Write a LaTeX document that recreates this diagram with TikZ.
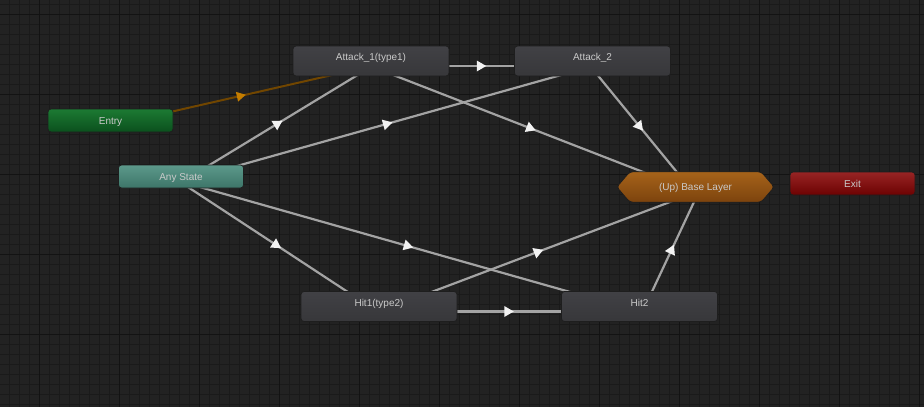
\documentclass[tikz,border=0pt]{standalone}
\usepackage{fontspec}
\setmainfont{Liberation Sans}
\usetikzlibrary{calc,decorations.markings}
\definecolor{bgc}{HTML}{222222}
\definecolor{minorc}{HTML}{1A1A1A}
\definecolor{majorc}{HTML}{131313}
\definecolor{txtc}{HTML}{CACACA}
\definecolor{linec}{HTML}{A3A3A3}
\definecolor{arrowc}{HTML}{F2F2F2}
\definecolor{orangeline}{HTML}{714600}
\definecolor{orangearrow}{HTML}{C47D00}
\pgfdeclarelayer{gridlayer}
\pgfdeclarelayer{linelayer}
\pgfdeclarelayer{hexlayer}
\pgfsetlayers{gridlayer,linelayer,hexlayer,main}
\tikzset{
  nodefont/.style={text=txtc, font=\fontsize{10}{12}\selectfont},
  statebox/.style={nodefont, rectangle, rounded corners=3pt, minimum width=156pt, minimum height=30pt,
    inner sep=0pt, top color=gray1, bottom color=gray2, draw=edgec, line width=0.8pt,
    text height=7pt, text depth=7.8pt},
  smallbox/.style={nodefont, rectangle, rounded corners=3pt, minimum width=125pt, minimum height=23pt,
    inner sep=0pt, draw=edgec, line width=0.8pt, text height=7.2pt, text depth=0pt},
  entrybox/.style={smallbox, top color=entry1, bottom color=entry2},
  anybox/.style={smallbox, top color=any1, bottom color=any2},
  exitbox/.style={smallbox, top color=exit1, bottom color=exit2},
  layerbox/.style={nodefont, rectangle, minimum width=157pt, minimum height=30pt, inner sep=0pt,
    text height=7.2pt, text depth=0pt},
  minorline/.style={draw=minorc, line width=1pt},
  majorline/.style={draw=majorc, line width=1pt},
  trans/.style={draw=linec, line width=2.2pt, postaction={decorate},
    decoration={markings, mark=at position 0.5 with {\fill[arrowc] (-5pt,-5.5pt) -- (4.5pt,0pt) -- (-5pt,5.5pt) -- cycle;}}},
  entrytrans/.style={draw=orangeline, line width=2pt, postaction={decorate},
    decoration={markings, mark=at position 0.5 with {\fill[orangearrow] (-5pt,-5pt) -- (4pt,0pt) -- (-5pt,5pt) -- cycle;}}},
}
\definecolor{gray1}{HTML}{414145}
\definecolor{gray2}{HTML}{37373A}
\definecolor{edgec}{HTML}{1E1E1E}
\definecolor{entry1}{HTML}{1C7A33}
\definecolor{entry2}{HTML}{0B501D}
\definecolor{any1}{HTML}{5C998B}
\definecolor{any2}{HTML}{3D7568}
\definecolor{exit1}{HTML}{982424}
\definecolor{exit2}{HTML}{6C0202}
\definecolor{layer1}{HTML}{A6631A}
\definecolor{layer2}{HTML}{7C430D}
\newcommand\transline[3][trans]{%
  \draw[#1] ($(#2.center)!5pt!-90:(#3.center)$) -- ($(#3.center)!5pt!90:(#2.center)$);}
\begin{document}
\begin{tikzpicture}[x=1pt,y=-1pt]
\useasboundingbox (0,0) rectangle (924,407);
\begin{pgfonlayer}{gridlayer}
  \fill[bgc] (0,0) rectangle (924,407);
  \foreach \x in {9,19,...,919} \draw[minorline] (\x,0) -- (\x,407);
  \foreach \y in {4,14,...,404} \draw[minorline] (0,\y) -- (924,\y);
  \foreach \x in {39,119,...,919} \draw[majorline] (\x,0) -- (\x,407);
  \foreach \y in {14,94,...,334} \draw[majorline] (0,\y) -- (924,\y);
\end{pgfonlayer}

\node[statebox] (a1) at (371,61) {Attack\_1(type1)};
\node[statebox] (a2) at (592.5,61) {Attack\_2};
\node[entrybox] (en) at (110.5,120.5) {Entry};
\node[anybox] (as) at (181,176.5) {Any State};
\node[layerbox] (bl) at (695.5,187) {(Up) Base Layer};
\node[exitbox] (ex) at (852.5,183.5) {Exit};
\node[statebox] (h1) at (379,306.5) {Hit1(type2)};
\node[statebox] (h2) at (639.5,306.5) {Hit2};

\begin{pgfonlayer}{hexlayer}
  \shade[top color=layer1, bottom color=layer2, draw=edgec, line width=0.8pt, rounded corners=3pt]
    (bl.west) -- ([xshift=13pt]bl.north west) -- ([xshift=-13pt]bl.north east) -- (bl.east)
    -- ([xshift=-13pt]bl.south east) -- ([xshift=13pt]bl.south west) -- cycle;
\end{pgfonlayer}

\begin{pgfonlayer}{linelayer}
  \transline[entrytrans]{en}{a1}
  \transline{a1}{a2}
  \transline{h1}{h2}
  \transline{as}{a1}
  \transline{as}{a2}
  \transline{as}{h1}
  \transline{as}{h2}
  \transline{a1}{bl}
  \transline{a2}{bl}
  \transline{h1}{bl}
  \transline{h2}{bl}
\end{pgfonlayer}
\end{tikzpicture}
\end{document}
